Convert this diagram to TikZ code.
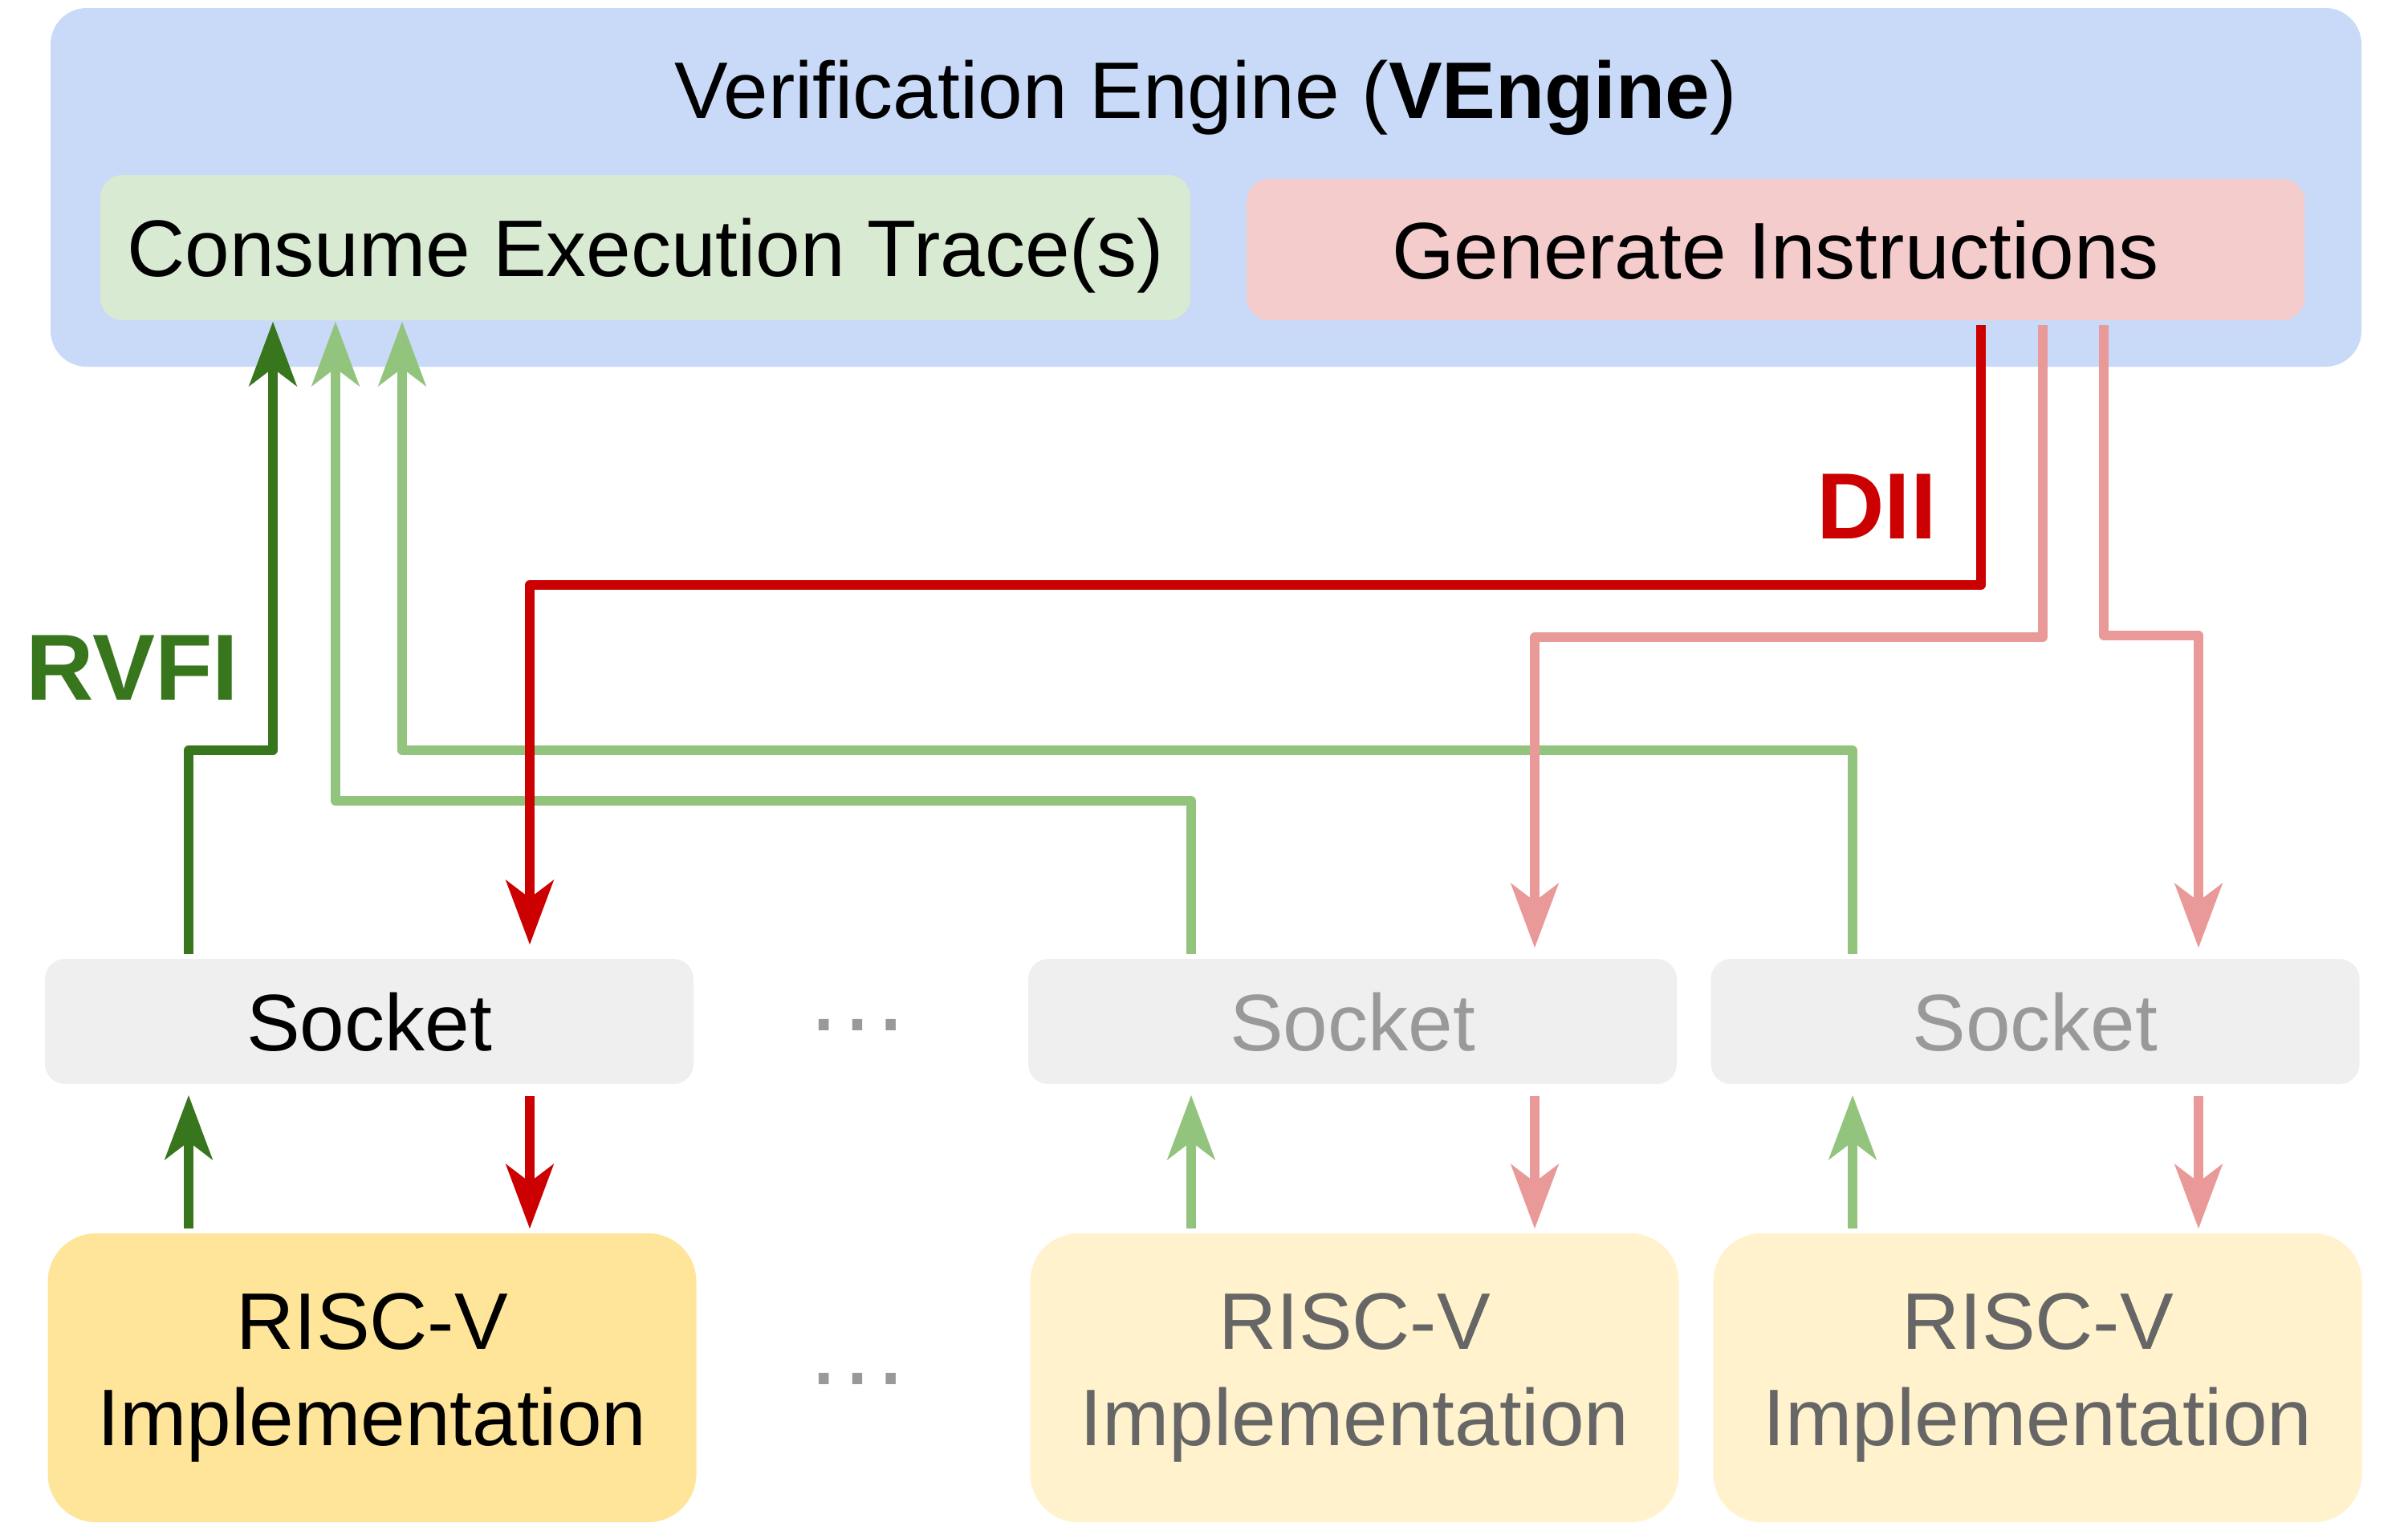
\documentclass[tikz,border=0pt]{standalone}
\usepackage{fontspec}
\setmainfont{Liberation Sans}
\usetikzlibrary{positioning, arrows.meta, calc}
\definecolor{engfill}{HTML}{C9DAF8}
\definecolor{consfill}{HTML}{D9EAD3}
\definecolor{genfill}{HTML}{F4CCCC}
\definecolor{sockfill}{HTML}{EFEFEF}
\definecolor{implon}{HTML}{FFE599}
\definecolor{imploff}{HTML}{FFF2CC}
\definecolor{offsock}{HTML}{999999}
\definecolor{offimpl}{HTML}{666666}
\definecolor{rvfigreen}{HTML}{38761D}
\definecolor{tracegreen}{HTML}{93C47D}
\definecolor{diired}{HTML}{CC0000}
\definecolor{instrred}{HTML}{EA9999}

\begin{document}
\begin{tikzpicture}[
  x=1cm, y=1cm,
  line width=0.115cm, line join=round,
  >={Stealth[length=0.8cm, width=0.59cm, inset=0.22cm]},
  engbox/.style = {fill=engfill, rounded corners=0.45cm, inner sep=0pt,
                   minimum width=28.79cm, minimum height=4.47cm, anchor=center},
  ttl/.style    = {inner sep=0pt, text height=0.72cm, text depth=0pt,
                   font=\fontsize{28.45}{34.1}\selectfont},
  box/.style    = {rounded corners=0.28cm, inner sep=0pt, anchor=center,
                   text height=0.72cm, text depth=0pt,
                   font=\fontsize{28.45}{34.1}\selectfont},
  sock/.style   = {box, fill=sockfill, rounded corners=0.25cm,
                   minimum width=8.08cm, minimum height=1.56cm},
  impl/.style   = {fill=imploff, text=offimpl, rounded corners=0.6cm,
                   minimum width=8.08cm, minimum height=3.6cm, inner sep=0pt,
                   align=center, anchor=center,
                   font=\fontsize{28.45}{34.1}\selectfont},
  gapdots/.style = {anchor=base, inner sep=0pt, text=offsock,
                    font=\fontsize{37.5}{40}\selectfont},
  lbl/.style    = {inner sep=0pt, text height=0.84cm, text depth=0pt,
                   font=\bfseries\fontsize{33.3}{40}\selectfont},
  rvfi/.style   = {draw=rvfigreen},
  trace/.style  = {draw=tracegreen},
  dii/.style    = {draw=diired},
  instr/.style  = {draw=instrred}
]
\useasboundingbox (0,0) rectangle (30,-19.07);

% Verification engine
\node[engbox] (eng) at (15.025,-2.335) {};
\node[ttl] (title) at (15.02,-1.11) {Verification Engine (\textbf{VEngine})};
\node[box, fill=consfill, minimum width=13.58cm, minimum height=1.81cm] (cons) at (8.04,-3.085) {Consume Execution Trace(s)};
\node[box, fill=genfill, minimum width=13.18cm, minimum height=1.76cm] (gen) at (22.12,-3.11) {Generate Instructions};

% sockets and implementations
\node[sock] (s1) at (4.60,-12.73) {Socket};
\node[sock, text=offsock] (s2) at (16.85,-12.73) {Socket};
\node[sock, text=offsock] (s3) at (25.355,-12.73) {Socket};
\node[impl, fill=implon, text=black] (r1) at (4.635,-17.17) {RISC-V\\Implementation};
\node[impl] (r2) at (16.875,-17.17) {RISC-V\\Implementation};
\node[impl] (r3) at (25.385,-17.17) {RISC-V\\Implementation};
\node[gapdots] (gap1) at (10.68,-12.84) {…};
\node[gapdots] (gap2) at (10.68,-17.25) {…};

% labels
\node[lbl, text=rvfigreen] (rvfilbl) at (1.65,-8.30) {RVFI};
\node[lbl, text=diired] (diilbl) at (23.38,-6.29) {DII};

% ports and bends
\coordinate (t1) at (2.35,-12.73);
\coordinate (t2) at (14.84,-12.73);
\coordinate (t3) at (23.08,-12.73);
\coordinate (i1) at (6.60,-12.73);
\coordinate (i2) at (19.12,-12.73);
\coordinate (i3) at (27.39,-12.73);
\coordinate (rv) at (3.40,-9.35);
\coordinate (tr1) at (4.18,-9.98);
\coordinate (tr2) at (5.01,-9.35);
\coordinate (ins0) at (24.68,-7.29);
\coordinate (ins1) at (25.45,-7.94);
\coordinate (ins2) at (26.21,-7.92);

% traces back to the engine
\draw[trace, ->, shorten >=-0.04cm] (t2 |- s2.north) |- (tr1) -- (tr1 |- cons.south);
\draw[trace, ->, shorten >=-0.04cm] (t3 |- s3.north) |- (tr2) -- (tr2 |- cons.south);
\draw[rvfi, ->, shorten >=-0.04cm] (t1 |- s1.north) |- (rv) -- (rv |- cons.south);

% instructions to the sockets
\draw[instr, ->, shorten >=0.08cm] (ins1 |- gen.south) -- (ins1) -| (i2 |- s2.north);
\draw[instr, ->, shorten >=0.08cm] (ins2 |- gen.south) -- (ins2) -| (i3 |- s3.north);
\draw[dii, ->, shorten >=0.12cm] (ins0 |- gen.south) -- (ins0) -| (i1 |- s1.north);

% socket <-> implementation
\draw[rvfi, ->, shorten >=0.08cm] (t1 |- r1.north) -- (t1 |- s1.south);
\draw[trace, ->, shorten >=0.08cm] (t2 |- r2.north) -- (t2 |- s2.south);
\draw[trace, ->, shorten >=0.08cm] (t3 |- r3.north) -- (t3 |- s3.south);
\draw[dii, ->, shorten <=0.09cm] (i1 |- s1.south) -- (i1 |- r1.north);
\draw[instr, ->, shorten <=0.09cm] (i2 |- s2.south) -- (i2 |- r2.north);
\draw[instr, ->, shorten <=0.09cm] (i3 |- s3.south) -- (i3 |- r3.north);

\end{tikzpicture}
\end{document}
